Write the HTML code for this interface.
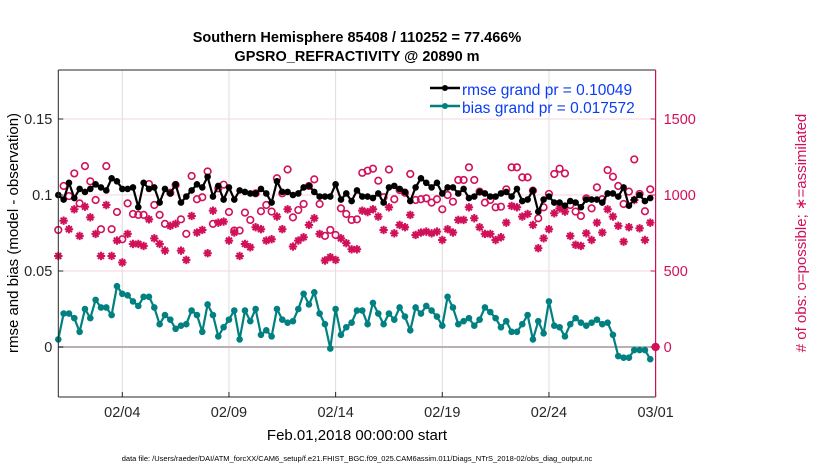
<!DOCTYPE html>
<html><head><meta charset="utf-8"><style>
body{margin:0;background:#fff;}
svg{display:block;font-family:"Liberation Sans",sans-serif;}
</style></head><body>
<svg id="chart" width="830" height="470" viewBox="0 0 830 470" xmlns="http://www.w3.org/2000/svg">
<text x="357" y="42" text-anchor="middle" font-size="14.5" font-weight="bold">Southern Hemisphere 85408 / 110252 = 77.466%</text>
<text x="357" y="61" text-anchor="middle" font-size="14.5" font-weight="bold">GPSRO_REFRACTIVITY @ 20890 m</text>
<g id="grid"></g>
<g id="marks"></g>
<g id="axes"></g>
<text transform="translate(18,233) rotate(-90)" text-anchor="middle" font-size="15">rmse and bias (model - observation)</text>
<text transform="translate(806,233) rotate(-90)" text-anchor="middle" font-size="15" fill="#d1105a">#  of obs: o=possible; ∗=assimilated</text>
<text x="357" y="440" text-anchor="middle" font-size="15">Feb.01,2018 00:00:00 start</text>
<text x="357" y="461" text-anchor="middle" font-size="7.5">data file: /Users/raeder/DAI/ATM_forcXX/CAM6_setup/f.e21.FHIST_BGC.f09_025.CAM6assim.011/Diags_NTrS_2018-02/obs_diag_output.nc</text>
<g>
<g><line x1="430" y1="88" x2="460" y2="88" stroke="#000" stroke-width="2.5"/><circle cx="445" cy="88" r="3" fill="#000"/><text x="462" y="95" font-size="15.5" fill="#0a3cf5">rmse grand pr = 0.10049</text></g>
<g><line x1="430" y1="106" x2="460" y2="106" stroke="#008080" stroke-width="2.5"/><circle cx="445" cy="106" r="3" fill="#008080"/><text x="462" y="113" font-size="15.5" fill="#0a3cf5">bias grand pr = 0.017572</text></g>
</g>
</svg>
<script>
const rmse=[0.100,0.097,0.108,0.098,0.104,0.102,0.104,0.107,0.105,0.103,0.111,0.109,0.104,0.104,0.105,0.092,0.108,0.104,0.105,0.095,0.104,0.101,0.107,0.095,0.099,0.103,0.107,0.105,0.112,0.099,0.106,0.097,0.105,0.097,0.103,0.102,0.101,0.101,
0.104,0.101,0.095,0.109,0.102,0.102,0.100,0.101,0.105,0.106,0.102,0.099,0.099,0.099,0.107,0.097,0.101,0.096,0.103,0.099,0.099,0.098,0.101,0.095,0.105,0.106,0.104,0.102,0.096,0.105,0.111,0.108,0.105,0.108,0.101,0.105,0.105,0.101,
0.104,0.098,0.099,0.102,0.101,0.099,0.099,0.101,0.102,0.099,0.104,0.096,0.097,0.103,0.089,0.097,0.099,0.095,0.095,0.093,0.096,0.095,0.092,0.097,0.097,0.097,0.095,0.101,0.101,0.099,0.105,0.093,0.097,0.100,0.096,0.098,null];
const bias=[0.005,0.022,0.022,0.019,0.010,0.025,0.019,0.031,0.026,0.026,0.021,0.040,0.035,0.034,0.030,0.027,0.033,0.033,0.026,0.015,0.021,0.018,0.012,0.014,0.015,0.024,0.021,0.010,0.028,0.021,0.007,0.013,0.018,0.024,0.005,0.024,0.017,0.025,0.008,0.011,0.007,0.025,0.018,0.016,0.017,0.025,0.035,0.028,0.036,0.022,0.015,-0.001,0.025,0.008,0.013,0.016,0.024,
0.024,0.015,0.029,0.022,0.015,0.022,0.018,0.026,0.020,0.011,0.026,0.022,0.027,0.024,0.020,0.014,0.033,0.026,0.015,0.017,0.019,0.014,0.018,0.026,0.023,0.019,0.013,0.017,0.010,0.010,0.015,0.021,0.005,0.017,0.009,0.030,0.014,0.013,0.007,0.015,0.019,0.016,0.014,0.016,0.018,0.015,0.016,0.008,-0.006,-0.007,-0.007,-0.002,-0.002,-0.002,-0.008,null];
const possible=[770,1059,993,1142,945,1190,1090,967,775,1190,775,888,709,945,875,869,869,1072,934,869,810,1015,1066,840,744,1125,972,985,1155,810,1044,1068,888,766,766,884,836,1011,
893,934,891,1110,1011,1168,853,901,941,1059,1103,941,731,770,737,912,875,836,840,1146,1160,1173,1094,985,1168,972,1033,1015,1138,967,972,978,950,972,906,1000,956,1099,
1099,1182,1099,1022,950,967,919,923,1037,1182,1182,1116,1116,1029,847,919,1007,1138,1173,1142,934,891,862,978,912,1050,972,1164,1120,1059,941,1022,1234,1007,893,1037,0];
const assimilated=[599,831,775,906,731,923,853,744,599,934,599,700,556,744,678,678,665,840,715,678,634,797,810,634,573,862,753,770,617,897,818,825,700,753,599,678,656,788,
775,700,709,858,775,906,661,700,722,803,847,744,569,591,573,715,683,643,643,897,888,906,858,770,919,748,803,788,869,737,753,759,748,759,704,775,753,836,
836,919,847,788,744,744,704,722,818,928,919,858,875,803,650,715,775,880,912,891,731,672,665,748,704,818,753,906,858,797,693,788,967,781,704,818,0];
const xTickLabels=["02/04","02/09","02/14","02/19","02/24","03/01"];
const xTickDays=[3,8,13,18,23,28];
const yTicksLeft=[0,0.05,0.1,0.15];
const yTickLeftLabels=["0","0.05","0.1","0.15"];
const yTicksRight=[0,500,1000,1500];

const X0=58.3,X1=655.6,YT=70,YB=397;
const xs=d=>X0+(X1-X0)*d/28;
const yL=v=>347-v*1520;
const yR=v=>347-v*0.152;
const NS="http://www.w3.org/2000/svg";
function mk(parent,tag,attrs){const e=document.createElementNS(NS,tag);for(const k in attrs)e.setAttribute(k,attrs[k]);parent.appendChild(e);return e;}
const grid=document.getElementById('grid'),marks=document.getElementById('marks'),axes=document.getElementById('axes');
mk(grid,'rect',{x:X0,y:YT,width:X1-X0,height:YB-YT,fill:'#fff'});
xTickDays.forEach((d,i)=>{
  const l=mk(grid,'line',{x1:xs(d),x2:xs(d),y1:YT,y2:YB,stroke:'#dcdcdc','stroke-width':1});
  
  
  const t=mk(axes,'line',{x1:xs(d),x2:xs(d),y1:YB,y2:YB-5,stroke:'#262626'});
  
  
  const tx=mk(axes,'text',{x:xs(d),y:YB+20,'text-anchor':'middle','font-size':14.5,fill:'#262626'});
  tx.textContent=xTickLabels[i];
  
  
});
yTicksRight.forEach(v=>{
  const l=mk(grid,'line',{x1:X0,x2:X1,y1:yR(v),y2:yR(v),stroke:'#f6d6e2','stroke-width':1});
  
  
});
const zl=mk(grid,'line',{x1:X0,x2:X1,y1:yL(0),y2:yL(0),stroke:'#b8b0b4','stroke-width':2});



const step=0.25;
possible.forEach((v,i)=>{
  const c=mk(marks,'circle',{cx:xs(i*step),cy:yR(v),r:3.3,fill:'none',stroke:'#d1105a','stroke-width':1.6});
  
  
});
assimilated.forEach((v,i)=>{
  const cx=xs(i*step),cy=yR(v),r=4.2,q=r*0.707;
  const d=`M${cx-r},${cy}H${cx+r}M${cx},${cy-r}V${cy+r}M${cx-q},${cy-q}L${cx+q},${cy+q}M${cx-q},${cy+q}L${cx+q},${cy-q}`;
  const p=mk(marks,'path',{d:d,stroke:'#d1105a','stroke-width':2,fill:'none'});
  
  
});
function series(arr,color,name,yf){
  let d='';arr.forEach((v,i)=>{if(v!==null)d+=(d?'L':'M')+xs(i*step).toFixed(1)+','+yf(v).toFixed(1);});
  const p=mk(marks,'path',{d:d,fill:'none',stroke:color,'stroke-width':2.2});
  
  
  arr.forEach((v,i)=>{if(v===null)return;
    const c=mk(marks,'circle',{cx:xs(i*step),cy:yf(v),r:3.3,fill:color});
    
    
  });
}
series(rmse,'#000','rmse',yL);
series(bias,'#008080','bias',yL);

mk(axes,'line',{x1:X0,x2:X1,y1:YT,y2:YT,stroke:'#262626','stroke-width':1});
mk(axes,'line',{x1:X0,x2:X1,y1:YB,y2:YB,stroke:'#262626','stroke-width':1});
mk(axes,'line',{x1:X0,x2:X0,y1:YT,y2:YB,stroke:'#262626','stroke-width':1});
mk(axes,'line',{x1:X1,x2:X1,y1:YT,y2:YB,stroke:'#d1105a','stroke-width':1.2});
yTicksLeft.forEach((v,i)=>{
  const t=mk(axes,'line',{x1:X0,x2:X0+5,y1:yL(v),y2:yL(v),stroke:'#262626'});
  
  
  const tx=mk(axes,'text',{x:X0-6,y:yL(v)+5,'text-anchor':'end','font-size':14.5,fill:'#262626'});
  tx.textContent=yTickLeftLabels[i];
  
  
});
yTicksRight.forEach(v=>{
  const t=mk(axes,'line',{x1:X1-5,x2:X1,y1:yR(v),y2:yR(v),stroke:'#d1105a'});
  
  
  const tx=mk(axes,'text',{x:X1+8,y:yR(v)+5,'font-size':14.5,fill:'#d1105a'});
  tx.textContent=String(v);
  
  
});
</script>
</body></html>
